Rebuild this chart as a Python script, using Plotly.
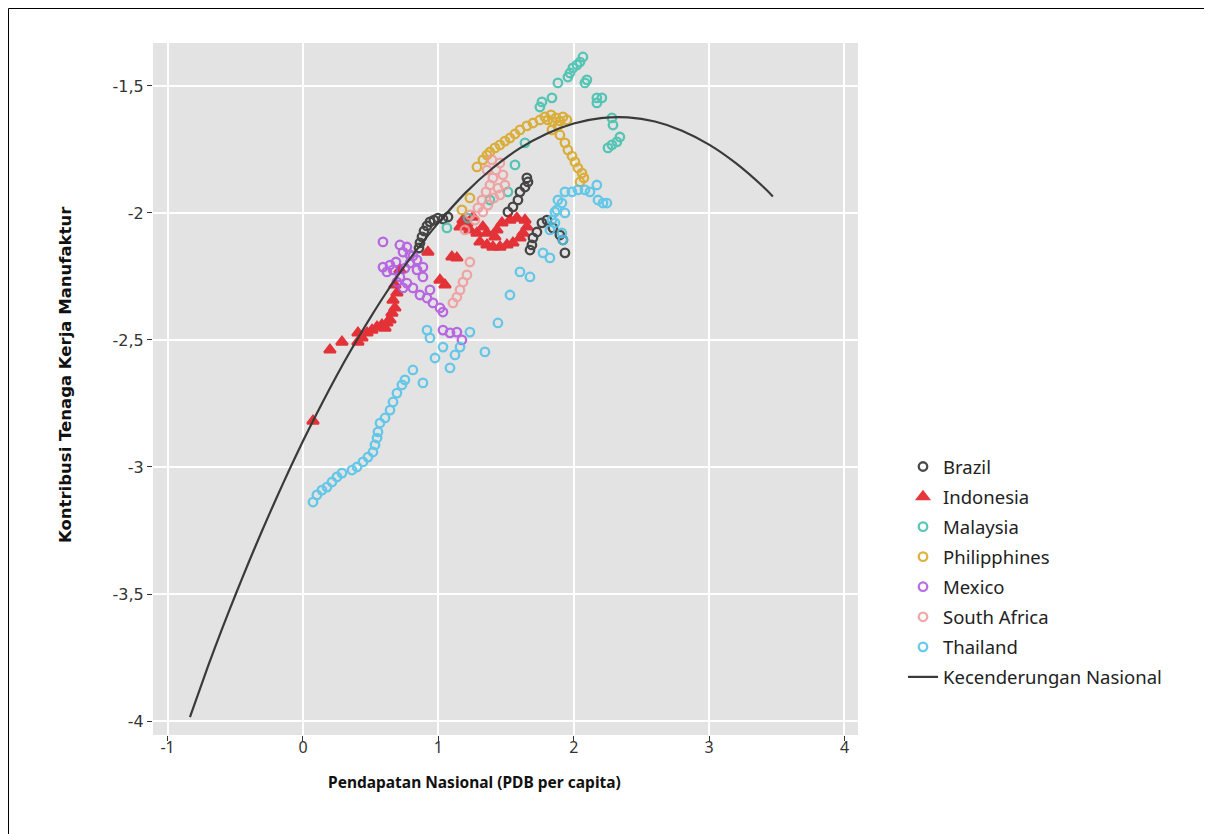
import plotly.graph_objects as go

# ---------------- data ----------------
brazil_x = [0.857, 0.864, 0.879, 0.894, 0.916, 0.938, 0.967, 0.997, 1.034, 1.071,
            1.514, 1.551, 1.588, 1.603, 1.640, 1.662, 1.654,
            1.677, 1.691, 1.699, 1.728, 1.765, 1.802, 1.846, 1.898, 1.920, 1.935]
brazil_y = [-2.138, -2.118, -2.094, -2.071, -2.051, -2.035, -2.028, -2.020, -2.024, -2.016,
            -1.996, -1.976, -1.949, -1.917, -1.898, -1.878, -1.862,
            -2.146, -2.126, -2.098, -2.075, -2.039, -2.028, -2.059, -2.087, -2.106, -2.157]

indonesia_x = [0.074, 0.199, 0.288, 0.406, 0.406, 0.436, 0.473, 0.510, 0.547, 0.583,
               0.620, 0.606, 0.643, 0.657, 0.679, 0.665, 0.694, 0.679, 0.716,
               0.923, 1.012, 1.049, 1.100, 1.137,
               1.160, 1.182, 1.211, 1.233, 1.256, 1.285, 1.307, 1.329, 1.359, 1.359,
               1.403, 1.418, 1.433, 1.455, 1.470, 1.507, 1.529, 1.551, 1.580, 1.603,
               1.625, 1.640, 1.654]
indonesia_y = [-2.819, -2.539, -2.508, -2.472, -2.508, -2.492, -2.472, -2.461, -2.449, -2.441,
               -2.433, -2.453, -2.421, -2.394, -2.374, -2.343, -2.315, -2.283, -2.224,
               -2.154, -2.264, -2.283, -2.173, -2.177,
               -2.055, -2.028, -2.039, -2.067, -2.016, -2.079, -2.114, -2.055, -2.126, -2.079,
               -2.134, -2.094, -2.067, -2.134, -2.039, -2.126, -2.028, -2.118, -2.020, -2.098,
               -2.079, -2.028, -2.055]

malaysia_x = [1.063, 1.219, 1.381, 1.514, 1.566, 1.640, 1.750, 1.765, 1.839, 1.883,
              1.957, 1.972, 1.994, 2.024, 2.046, 2.068, 2.097, 2.083, 2.171, 2.208,
              2.171, 2.282, 2.290, 2.341, 2.319, 2.282, 2.253]
malaysia_y = [-2.059, -2.020, -1.949, -1.917, -1.811, -1.724, -1.583, -1.563, -1.547, -1.488,
              -1.465, -1.449, -1.429, -1.417, -1.406, -1.386, -1.476, -1.488, -1.547, -1.547,
              -1.567, -1.626, -1.654, -1.701, -1.720, -1.732, -1.744]

philippines_x = [1.174, 1.233, 1.285, 1.329, 1.359, 1.381, 1.418, 1.455, 1.492, 1.529,
                 1.566, 1.603, 1.654, 1.699, 1.750, 1.787, 1.809, 1.832, 1.847, 1.869,
                 1.898, 1.920, 1.950, 1.883, 1.839, 1.898, 1.935, 1.957, 1.987, 2.009,
                 2.031, 2.061, 2.075, 2.046]
philippines_y = [-1.988, -1.941, -1.819, -1.791, -1.772, -1.760, -1.744, -1.732, -1.717, -1.705,
                 -1.689, -1.673, -1.657, -1.646, -1.634, -1.622, -1.634, -1.614, -1.642, -1.626,
                 -1.638, -1.622, -1.634, -1.657, -1.673, -1.693, -1.724, -1.752, -1.776, -1.799,
                 -1.823, -1.843, -1.862, -1.878]

mexico_x = [0.591, 0.716, 0.768, 0.739, 0.591, 0.643, 0.620, 0.665, 0.687, 0.716,
            0.753, 0.790, 0.812, 0.842, 0.842, 0.768, 0.812, 0.739, 0.886, 0.886,
            0.864, 0.916, 0.938, 0.960, 1.012, 1.034, 1.034, 1.086, 1.137, 1.174,
            0.790, 0.694]
mexico_y = [-2.114, -2.126, -2.134, -2.154, -2.213, -2.205, -2.232, -2.224, -2.193, -2.252,
            -2.217, -2.197, -2.169, -2.185, -2.224, -2.276, -2.295, -2.295, -2.213, -2.252,
            -2.323, -2.335, -2.303, -2.354, -2.374, -2.390, -2.461, -2.472, -2.469, -2.500,
            -2.165, -2.272]

southafrica_x = [1.108, 1.137, 1.160, 1.182, 1.211, 1.233, 1.196, 1.233, 1.270, 1.292,
                 1.322, 1.352, 1.381, 1.403, 1.426, 1.455, 1.477, 1.440, 1.411, 1.366,
                 1.329, 1.455, 1.492, 1.396, 1.359]
southafrica_y = [-2.354, -2.331, -2.303, -2.272, -2.244, -2.193, -2.067, -2.008, -2.028, -1.980,
                 -1.949, -1.917, -1.890, -1.862, -1.831, -1.803, -1.850, -1.902, -1.941, -1.969,
                 -1.996, -1.929, -1.890, -1.791, -1.831]

thailand_x = [0.074, 0.103, 0.140, 0.177, 0.214, 0.251, 0.288, 0.362, 0.399, 0.443,
              0.480, 0.517, 0.532, 0.547, 0.554, 0.569, 0.606, 0.643, 0.665, 0.694,
              0.731, 0.753, 0.812, 0.886, 0.916, 0.938, 0.975, 1.034, 1.086, 1.123,
              1.160, 1.233, 1.344, 1.440, 1.529, 1.603, 1.677, 1.773, 1.824, 1.824,
              1.861, 1.913, 1.920, 1.876, 1.913, 1.935, 1.839, 1.861, 1.883, 1.935,
              1.987, 2.031, 2.083, 2.120, 2.171, 2.179, 2.216, 2.245]
thailand_y = [-3.138, -3.110, -3.091, -3.079, -3.059, -3.039, -3.024, -3.012, -3.000, -2.980,
              -2.961, -2.941, -2.913, -2.886, -2.862, -2.827, -2.807, -2.776, -2.744, -2.709,
              -2.677, -2.657, -2.618, -2.669, -2.461, -2.492, -2.571, -2.528, -2.610, -2.559,
              -2.528, -2.469, -2.547, -2.433, -2.323, -2.232, -2.252, -2.157, -2.177, -2.067,
              -2.039, -2.079, -2.106, -1.988, -1.961, -2.000, -2.028, -1.996, -1.949, -1.917,
              -1.917, -1.909, -1.909, -1.917, -1.890, -1.949, -1.961, -1.961]

trend_x = [-0.835, -0.7, -0.6, -0.5, -0.4, -0.3, -0.2, -0.1, 0.0, 0.1,
           0.2, 0.3, 0.4, 0.5, 0.6, 0.7, 0.8, 0.9, 1.0, 1.2,
           1.4, 1.6, 1.8, 2.0, 2.2, 2.4, 2.6, 2.8, 3.0, 3.2,
           3.4, 3.471]
trend_y = [-3.985, -3.782, -3.640, -3.505, -3.374, -3.248, -3.127, -3.010, -2.898, -2.791,
           -2.689, -2.591, -2.498, -2.410, -2.326, -2.247, -2.173, -2.104, -2.039, -1.921,
           -1.824, -1.746, -1.688, -1.648, -1.627, -1.624, -1.640, -1.676, -1.731, -1.805,
           -1.897, -1.935]

x_ticks = [-1, 0, 1, 2, 3, 4]
x_ticktext = ["-1", "0", "1", "2", "3", "4"]
y_ticks = [-1.5, -2, -2.5, -3, -3.5, -4]
y_ticktext = ["-1,5", "-2", "-2,5", "-3", "-3,5", "-4"]

series = [
    ("Brazil", brazil_x, brazil_y, "#2b2b2b", "circle-open"),
    ("Indonesia", indonesia_x, indonesia_y, "#e3141b", "triangle-up"),
    ("Malaysia", malaysia_x, malaysia_y, "#3dbfae", "circle-open"),
    ("Philipphines", philippines_x, philippines_y, "#d9a51e", "circle-open"),
    ("Mexico", mexico_x, mexico_y, "#b052e0", "circle-open"),
    ("South Africa", southafrica_x, southafrica_y, "#f29a9a", "circle-open"),
    ("Thailand", thailand_x, thailand_y, "#4fc3e8", "circle-open"),
]

# ---------------- figure ----------------
W, H = 1212, 834
OFF = 8  # page offset of the plot div
L, R, T, B = 153 - OFF, 858 - OFF, 43 - OFF, 735 - OFF
fig = go.Figure()

for name, xs, ys, col, sym in series:
    fig.add_trace(go.Scatter(
        x=xs, y=ys, mode="markers", name=name, legendgroup=name,
        marker=dict(symbol=sym, size=10 if sym == "triangle-up" else 8.5, color=col,
                    line=dict(width=2.3, color=col)),
        opacity=0.85,
    ))

fig.add_trace(go.Scatter(
    x=trend_x, y=trend_y, mode="lines", name="Kecenderungan Nasional",
    legendgroup="trend",
    line=dict(color="#3a3a3a", width=2.2, shape="spline", smoothing=0.6),
))

def px_x(p):  # p: page pixel
    return (p - OFF - L) / (R - L)

def px_y(p):
    return (B - (p - OFF)) / (B - T)

fig.update_layout(
    width=W, height=H, autosize=False,
    margin=dict(l=L, r=W - R, t=T, b=H - B),
    paper_bgcolor="white", plot_bgcolor="#e3e3e3",
    font=dict(family="Noto Sans, Open Sans, sans-serif", color="#222222"),
    showlegend=True,
    legend=dict(x=px_x(903), y=px_y(448), xanchor="left", yanchor="top",
                bgcolor="rgba(0,0,0,0)", font=dict(size=18.5, color="#222222"),
                itemwidth=30, tracegroupgap=3, traceorder="grouped",
                itemsizing="trace"),
    xaxis=dict(range=[-1.108, 4.10], tickvals=x_ticks, ticktext=x_ticktext,
               showgrid=True, gridcolor="white", gridwidth=1.6, zeroline=False,
               ticks="outside", ticklen=5, tickcolor="#333333", tickwidth=1,
               ticklabelstandoff=-7,
               tickfont=dict(size=16, color="#333333"), showline=False),
    yaxis=dict(range=[-4.055, -1.331], tickvals=y_ticks, ticktext=y_ticktext,
               showgrid=True, gridcolor="white", gridwidth=1.6, zeroline=False,
               ticks="outside", ticklen=5, tickcolor="#333333", tickwidth=1,
               tickfont=dict(size=16, color="#333333", family="DejaVu Sans, Noto Sans, sans-serif"),
               showline=False),
    annotations=[
        dict(text="<b>Pendapatan Nasional (PDB per capita)</b>", xref="paper", yref="paper",
             x=px_x(474), y=px_y(782), xanchor="center", yanchor="middle", showarrow=False,
             font=dict(size=15.5, color="#111111")),
        dict(text="<b>Kontribusi Tenaga Kerja Manufaktur</b>", xref="paper", yref="paper",
             x=px_x(65), y=px_y(375), xanchor="center", yanchor="middle", showarrow=False,
             textangle=-90, font=dict(size=16.5, color="#111111",
                                      family="DejaVu Sans, Noto Sans, sans-serif")),
    ],
    shapes=[
        dict(type="rect", xref="paper", yref="paper",
             x0=px_x(OFF + 0.5), x1=px_x(1205.5), y0=px_y(845), y1=px_y(OFF + 0.5),
             line=dict(color="black", width=1), fillcolor="rgba(0,0,0,0)", layer="above"),
    ],
)

fig.write_html("out.html")
